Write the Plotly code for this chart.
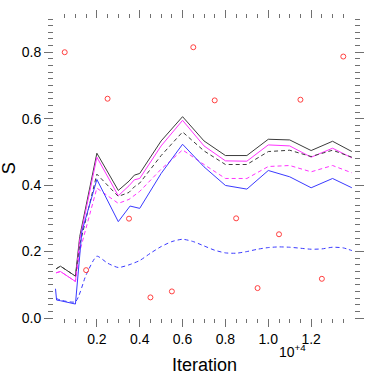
import plotly.graph_objects as go

# ---- data (x in units of 10^4 iterations) ----
x_black = [0.01, 0.03, 0.1, 0.12, 0.2, 0.3, 0.35, 0.375, 0.4, 0.5, 0.6, 0.7, 0.8, 0.9, 1.0, 1.1, 1.2, 1.3, 1.39]
black_solid = [0.148, 0.156, 0.126, 0.245, 0.496, 0.384, 0.412, 0.430, 0.435, 0.533, 0.606, 0.533, 0.489, 0.489, 0.538, 0.536, 0.504, 0.532, 0.501]
magenta_solid = [0.136, 0.140, 0.110, 0.235, 0.484, 0.368, 0.398, 0.416, 0.420, 0.518, 0.595, 0.518, 0.473, 0.472, 0.521, 0.518, 0.484, 0.511, 0.482]
black_dashed = [0.148, 0.156, 0.126, 0.220, 0.433, 0.366, 0.378, 0.395, 0.406, 0.489, 0.560, 0.503, 0.462, 0.462, 0.501, 0.505, 0.486, 0.505, 0.484]
magenta_dashed = [0.136, 0.140, 0.110, 0.200, 0.391, 0.345, 0.357, 0.370, 0.381, 0.448, 0.506, 0.462, 0.420, 0.420, 0.456, 0.459, 0.440, 0.459, 0.437]

x_blue = [0.007, 0.012, 0.03, 0.1, 0.13, 0.2, 0.3, 0.355, 0.4, 0.5, 0.6, 0.7, 0.8, 0.9, 1.0, 1.1, 1.2, 1.3, 1.39]
blue_solid = [0.088, 0.054, 0.052, 0.042, 0.260, 0.417, 0.290, 0.337, 0.330, 0.435, 0.523, 0.455, 0.399, 0.388, 0.444, 0.425, 0.392, 0.420, 0.392]

x_blue_dashed = [0.01, 0.03, 0.1, 0.15, 0.2, 0.25, 0.3, 0.35, 0.4, 0.45, 0.5, 0.55, 0.6, 0.65, 0.7, 0.75, 0.8, 0.85, 0.9, 0.95, 1.0, 1.05, 1.1, 1.15, 1.2, 1.25, 1.3, 1.35, 1.39]
blue_dashed = [0.059, 0.054, 0.049, 0.130, 0.186, 0.165, 0.152, 0.160, 0.173, 0.195, 0.215, 0.230, 0.237, 0.230, 0.217, 0.204, 0.196, 0.195, 0.200, 0.207, 0.212, 0.214, 0.213, 0.210, 0.207, 0.208, 0.213, 0.211, 0.203]

x_points = [0.05, 0.15, 0.25, 0.35, 0.45, 0.55, 0.65, 0.75, 0.85, 0.95, 1.05, 1.15, 1.25, 1.35]
y_points = [0.800, 0.144, 0.660, 0.299, 0.062, 0.080, 0.815, 0.655, 0.300, 0.090, 0.252, 0.657, 0.118, 0.787]

x_major = [0.2, 0.4, 0.6, 0.8, 1.0, 1.2]
x_labels = ["0.2", "0.4", "0.6", "0.8", "1.0", "1.2"]
x_minor = [round(0.05 * i, 2) for i in range(1, 28)]
y_major = [0.0, 0.2, 0.4, 0.6, 0.8]
y_labels = ["0.0", "0.2", "0.4", "0.6", "0.8"]
y_minor = [round(0.02 * i, 2) for i in range(1, 46)]

BLACK = "#3c3c3c"
MAG = "#ff33ff"
BLUE = "#3a3aff"
TICK = "#707070"
FONT = "Liberation Sans, Arial, Helvetica, sans-serif"

fig = go.Figure()
fig.add_trace(go.Scatter(x=x_black, y=black_solid, mode="lines", line=dict(color=BLACK, width=1)))
fig.add_trace(go.Scatter(x=x_black, y=magenta_solid, mode="lines", line=dict(color=MAG, width=1)))
fig.add_trace(go.Scatter(x=x_black, y=black_dashed, mode="lines", line=dict(color=BLACK, width=1, dash="4px,3px")))
fig.add_trace(go.Scatter(x=x_black, y=magenta_dashed, mode="lines", line=dict(color=MAG, width=1, dash="4px,3px")))
fig.add_trace(go.Scatter(x=x_blue, y=blue_solid, mode="lines", line=dict(color=BLUE, width=1)))
fig.add_trace(go.Scatter(x=x_blue_dashed, y=blue_dashed, mode="lines",
                         line=dict(color=BLUE, width=1, dash="4px,3px", shape="spline", smoothing=0.6)))
fig.add_trace(go.Scatter(x=x_points, y=y_points, mode="markers",
                         marker=dict(symbol="circle-open", size=5, color="#ff4040", line=dict(width=1, color="#ff4040"))))
# invisible trace for mirrored axes
fig.add_trace(go.Scatter(x=[0.7], y=[0.5], xaxis="x2", yaxis="y2", mode="markers",
                         marker=dict(opacity=0), hoverinfo="skip"))

xcommon = dict(range=[0, 1.4], showgrid=False, zeroline=False, showline=False,
               tickmode="array", tickvals=x_major, ticks="outside", ticklen=8, tickwidth=1, tickcolor=TICK,
               minor=dict(tickmode="array", tickvals=x_minor, ticks="outside", ticklen=4, tickwidth=1, tickcolor=TICK))
ycommon = dict(range=[0, 0.9], showgrid=False, zeroline=False, showline=False,
               tickmode="array", tickvals=y_major, ticks="outside", ticklen=9, tickwidth=1, tickcolor=TICK,
               minor=dict(tickmode="array", tickvals=y_minor, ticks="outside", ticklen=5, tickwidth=1, tickcolor=TICK))

fig.update_layout(
    width=374, height=374,
    margin=dict(l=54, r=11, t=11, b=56),
    paper_bgcolor="white", plot_bgcolor="white",
    showlegend=False,
    font=dict(family=FONT, size=14, color="black"),
    xaxis=dict(**xcommon, ticktext=x_labels, tickfont=dict(size=14)),
    yaxis=dict(**ycommon, ticktext=y_labels, tickfont=dict(size=14)),
    xaxis2=dict(**xcommon, overlaying="x", side="top", anchor="y", showticklabels=False),
    yaxis2=dict(**ycommon, overlaying="y", side="right", anchor="x", showticklabels=False),
    annotations=[
        dict(text="Iteration", x=0.5, y=-0.157, xref="paper", yref="paper", showarrow=False,
             xanchor="center", yanchor="middle", font=dict(size=18)),
        dict(text="S", x=-0.151, y=0.5, xref="paper", yref="paper", showarrow=False, textangle=-90,
             xanchor="center", yanchor="middle", font=dict(size=18)),
        dict(text="10<sup>+4</sup>", x=0.742, y=-0.111, xref="paper", yref="paper", showarrow=False,
             xanchor="left", yanchor="middle", font=dict(size=14)),
    ],
)

fig.write_html("out.html", config={"responsive": False, "displayModeBar": False},
               post_script="document.body.style.margin='0';document.body.style.padding='0';document.body.style.overflow='hidden';")
